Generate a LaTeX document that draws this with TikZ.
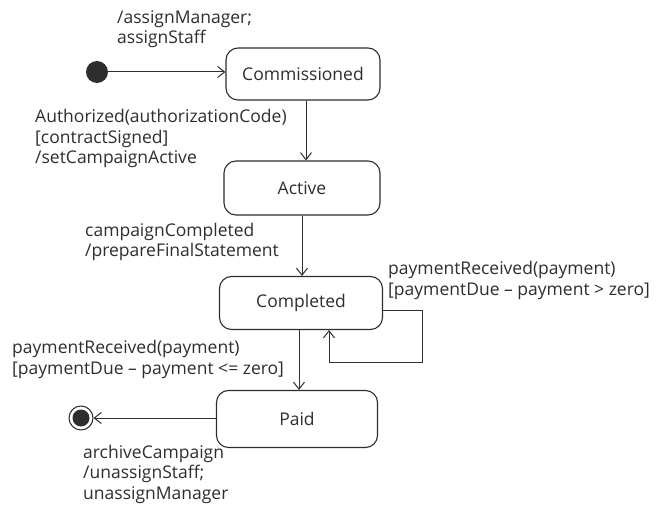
\documentclass[tikz,border=0pt]{standalone}
\usepackage{fontspec}
\setmainfont{Open Sans}
\usetikzlibrary{arrows.meta}
\definecolor{ink}{HTML}{2E2E2E}
\begin{document}
\begin{tikzpicture}[x=1pt,y=-1pt,
  state/.style={draw=ink, line width=1.1pt, rounded corners=12pt, text=ink, font=\fontsize{17.5}{20.5}\selectfont},
  lbl/.style={text=ink, font=\fontsize{17.5}{20.5}\selectfont, align=left, inner sep=0pt, anchor=base west},
  arr/.style={draw=ink, line width=1pt, -{Straight Barb[length=7pt,width=11pt,line width=1pt]}}]
\useasboundingbox (0,0) rectangle (657,508);
\fill[white] (0,0) rectangle (657,508);
\node[circle, fill=ink, minimum size=22pt, inner sep=0pt] (init) at (97,72) {};
\node[state, minimum width=154pt, minimum height=52pt] (comm) at (303,74) {Commissioned};
\node[state, minimum width=156pt, minimum height=54pt] (act) at (302,188) {Active};
\node[state, minimum width=163pt, minimum height=53pt] (compl) at (301,303) {Completed};
\node[state, minimum width=161pt, minimum height=57pt] (paid) at (297,419) {Paid};
\node[circle, draw=ink, line width=1pt, minimum size=24pt, inner sep=0pt] (final) at (81,418) {};
\fill[ink] (final.center) circle (8.5pt);

\draw[arr] (init) -- (init -| comm.west);
\draw[arr] ([xshift=3pt]comm.south) -- ([xshift=3pt]comm.south |- act.north);
\draw[arr] (act.south) -- (act.south |- compl.north);
\draw[arr] ([xshift=-2pt]compl.south) -- ([xshift=-2pt]compl.south |- paid.north);
\draw[arr] ([yshift=-8pt]compl.east) -- ++(39pt,0) |- ([xshift=28pt]compl.south |- 0,362) -- ([xshift=28pt]compl.south);
\draw[arr] (paid.west |- final) -- (final.east);

\node[lbl] (l1) at (117,44) {/assignManager;\\assignStaff};
\node[lbl] (l2) at (35,164) {Authorized(authorizationCode)\\{}[contractSigned]\\/setCampaignActive};
\node[lbl] (l3) at (85,257) {campaignCompleted\\/prepareFinalStatement};
\node[lbl] (l4) at (388,295) {paymentReceived(payment)\\{}[paymentDue -- payment > zero]};
\node[lbl] (l5) at (12,374) {paymentReceived(payment)\\{}[paymentDue -- payment <= zero]};
\node[lbl] (l6) at (83,499) {archiveCampaign\\/unassignStaff;\\unassignManager};
\end{tikzpicture}
\end{document}
